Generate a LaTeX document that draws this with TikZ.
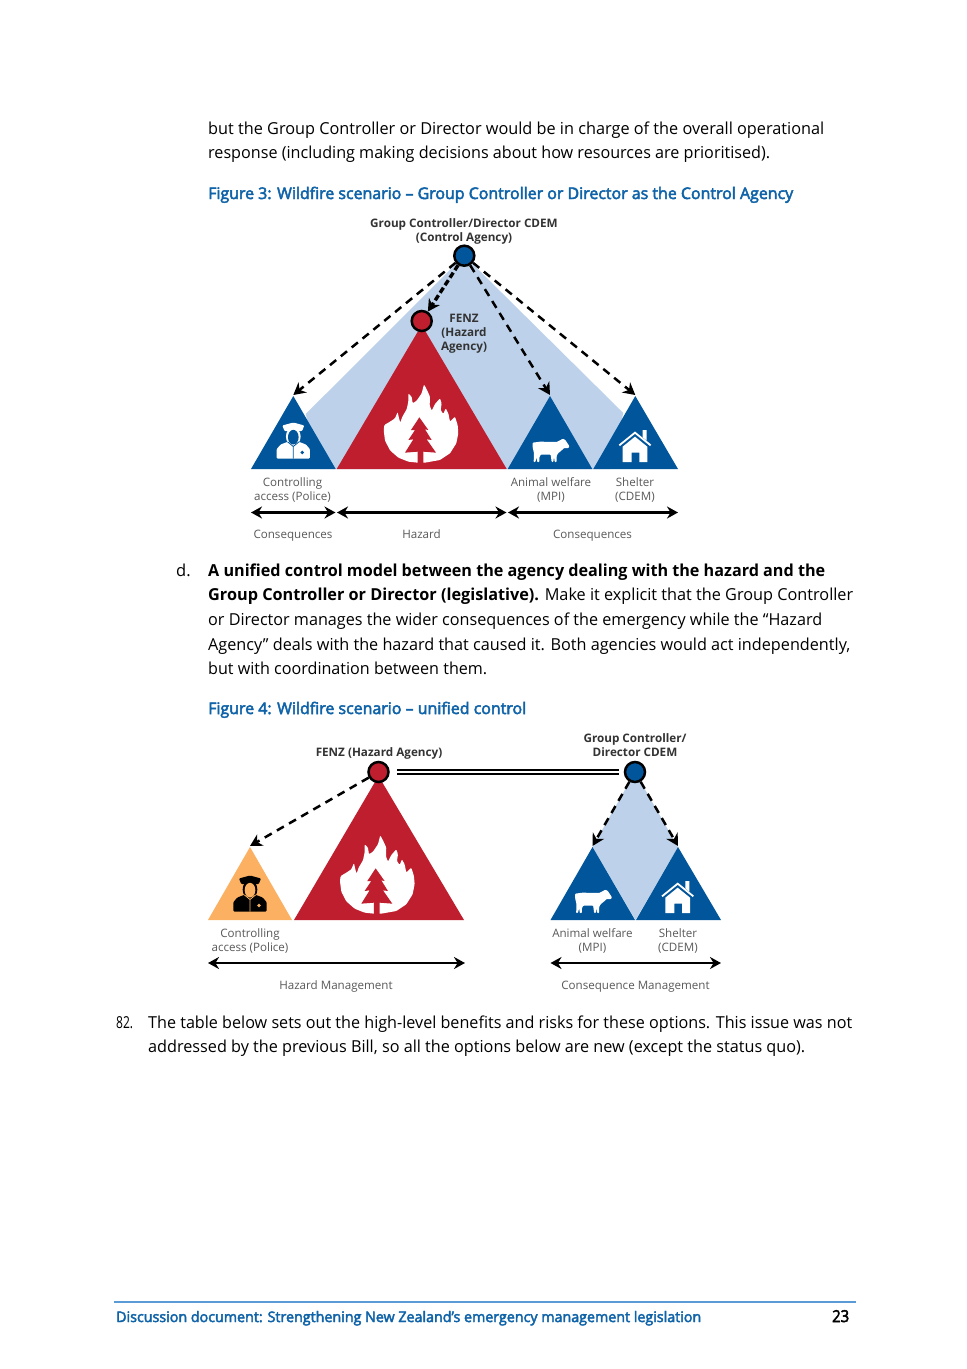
\documentclass[tikz,border=0pt]{standalone}
\usepackage{fontspec}
\usepackage{graphicx}
\usetikzlibrary{arrows.meta}
\setmainfont{Open Sans}
\newfontfamily\semifont[FakeBold=3]{Open Sans}
\newfontfamily\boldfont{Open Sans Bold}
\definecolor{cblue}{HTML}{00559B}
\definecolor{cred}{HTML}{BE1E2D}
\definecolor{clight}{HTML}{BDD2EA}
\definecolor{corange}{HTML}{FBB062}
\definecolor{capblue}{HTML}{0F63A8}
\definecolor{rulec}{HTML}{5B9BD5}
\definecolor{lab}{HTML}{595959}
\definecolor{labb}{HTML}{333333}
\newcommand{\fitto}[2]{\resizebox{#1pt}{\height}{#2}}
\newcommand{\officericon}[4]{%
 \begin{scope}[shift={(#1,#2)},xscale=0.3333,yscale=0.3333]
  \fill[#3,rounded corners=1pt] (-33,-99)--(0,-108)--(33,-99)--(26,-82)--(-26,-82)--cycle;
  \fill[#3] (0,-66) ellipse [x radius=22,y radius=28];
  \fill[#4] (0,-64) ellipse [x radius=16,y radius=22];
  \fill[#3,rounded corners=1pt] (-50,0)--(-50,-28)--(-38,-42)--(-17,-50)--(0,-38)--(17,-50)--(38,-42)--(50,-28)--(50,0)--cycle;
  \draw[#4,line width=0.8pt] (-17,-50)--(0,-36)--(17,-50) (0,-36)--(0,0);
  \fill[#4] (27,-18) circle [radius=5.5];
 \end{scope}}
\newcommand{\fireicon}[2]{%
 \begin{scope}[shift={(#1,#2)},xscale=0.3333,yscale=0.3333]
  \fill[white,rounded corners=1pt] (128,248)--(100,245)--(70,233)--(45,211)--(30,182)--(26,150)--(28,135)--(45,125)--(60,115)--(68,96)--(72,115)--(76,128)--(82,110)--(95,88)--(100,65)--(100,40)--(110,50)--(113,70)--(125,62)--(140,40)--(147,13)--(156,30)--(165,50)--(164,76)--(170,92)--(180,72)--(195,55)--(200,70)--(197,90)--(205,102)--(212,85)--(220,100)--(225,125)--(240,110)--(248,135)--(250,160)--(244,190)--(225,220)--(195,240)--(150,248)--cycle;
  \fill[cred] (133,112)--(160,150)--(150,148)--(170,180)--(155,178)--(183,218)--(145,215)--(145,250)--(128,250)--(128,215)--(90,218)--(115,178)--(100,180)--(120,150)--(108,150)--cycle;
 \end{scope}}
\newcommand{\cowicon}[2]{%
 \begin{scope}[shift={(#1,#2)},xscale=0.3333,yscale=0.3333]
  \fill[white,rounded corners=0.7pt] (38,68)--(60,65)--(110,66)--(122,60)--(128,56)--(136,60)--(148,78)--(146,84)--(132,84)--(124,92)--(114,100)--(110,108)--(110,126)--(104,126)--(102,110)--(100,126)--(95,126)--(92,104)--(62,104)--(58,112)--(58,126)--(52,126)--(50,112)--(46,126)--(41,126)--(42,100)--(38,82)--cycle;
 \end{scope}}
\newcommand{\houseicon}[2]{%
 \begin{scope}[shift={(#1,#2)},xscale=0.3333,yscale=0.3333]
  \fill[white] (368,30)--(380,30)--(380,62)--(368,52)--cycle;
  \draw[white,line width=1.8pt] (298,76)--(345,38)--(392,76);
  \fill[white] (308,80)--(345,50)--(382,80)--(382,126)--(358,126)--(358,98)--(335,98)--(335,126)--(308,126)--cycle;
 \end{scope}}
\tikzset{
 x=1pt,y=-1pt,
 bodytxt/.style={anchor=base west,inner sep=0pt,font=\fontsize{16.5}{20}\selectfont,text=black},
 captxt/.style={anchor=base west,inner sep=0pt,font=\semifont\fontsize{16}{20}\selectfont,text=capblue},
 foottxt/.style={anchor=base west,inner sep=0pt,font=\semifont\fontsize{14.5}{18}\selectfont,text=capblue},
 flab/.style={inner sep=0pt,align=center,text=lab,font=\fontsize{11.6}{14}\selectfont},
 flabb/.style={inner sep=0pt,align=center,text=labb,font=\boldfont\fontsize{11.7}{14}\selectfont},
 agency/.style={circle,draw=black,line width=2.5pt,minimum size=20pt,inner sep=0pt},
 dasharrow/.style={draw=black,line width=2.5pt,dash pattern=on 8pt off 6pt,-{Stealth[length=12pt,width=13pt]}},
 spanarrow/.style={draw=black,line width=2.4pt,{Stealth[length=11pt,width=12pt]}-{Stealth[length=11pt,width=12pt]}},
 linkline/.style={draw=black,double=white,double distance=1.3pt,line width=2.2pt,shorten <=7pt,shorten >=5pt},
}
\begin{document}
\begin{tikzpicture}
\useasboundingbox (0,0) rectangle (967,1369);
\fill[white] (0,0) rectangle (967,1369);
% body text
\node[bodytxt] (t1) at (208,134) {\fitto{616}{but the Group Controller or Director would be in charge of the overall operational}};
\node[bodytxt] (t2) at (208,158) {\fitto{562}{response (including making decisions about how resources are prioritised).}};
\node[captxt] (c3) at (208,199) {\fitto{585}{Figure 3: Wildfire scenario – Group Controller or Director as the Control Agency}};
\node[bodytxt] (dd) at (176,576) {d.};
\node[bodytxt] (t3) at (208,576) {\fitto{617}{\boldfont A unified control model between the agency dealing with the hazard and the}};
\node[bodytxt] (t4) at (208,600) {\fitto{645}{{\boldfont Group Controller or Director (legislative).} Make it explicit that the Group Controller}};
\node[bodytxt] (t5) at (208,625) {\fitto{614}{or Director manages the wider consequences of the emergency while the “Hazard}};
\node[bodytxt] (t6) at (208,650) {\fitto{642}{Agency” deals with the hazard that caused it. Both agencies would act independently,}};
\node[bodytxt] (t7) at (208,674) {\fitto{279}{but with coordination between them.}};
\node[captxt] (c4) at (208,714) {\fitto{318}{Figure 4: Wildfire scenario – unified control}};
\node[bodytxt] (n82) at (116,1028) {\fitto{17}{82.}};
\node[bodytxt] (t8) at (148,1028) {\fitto{704}{The table below sets out the high-level benefits and risks for these options. This issue was not}};
\node[bodytxt] (t9) at (148,1052) {\fitto{657}{addressed by the previous Bill, so all the options below are new (except the status quo).}};
% footer
\coordinate (fl) at (114,1302);
\coordinate (fr) at (856,1302);
\draw[rulec,line width=1.5pt] (fl)--(fr);
\node[foottxt] (foot) at (116,1322) {\fitto{585}{Discussion document: Strengthening New Zealand’s emergency management legislation}};
\node[bodytxt,text=black] (pg) at (832,1322) {\fitto{17}{\semifont 23}};
% ---------- figure 3
\coordinate (a3ctl) at (464.3,255.7);
\fill[clight] (a3ctl)--(305.7,414)--(320,469)--(610,469)--(623.3,413)--cycle;
\fill[cblue] (251,469)--(293.3,396)--(335.7,469)--cycle;
\fill[cred] (336.7,469)--(421.7,325)--(506.7,469)--cycle;
\fill[cblue] (507.7,469)--(550,396)--(592.3,469)--cycle;
\fill[cblue] (593.3,469)--(635.3,396)--(678,469)--cycle;
\officericon{293.3}{458.5}{white}{cblue}
\fireicon{375}{380}
\cowicon{520}{420}
\houseicon{520}{420}
\node[agency,fill=cblue] (ctl) at (a3ctl) {};
\node[agency,fill=cred] (haz) at (421.7,321) {};
\coordinate (ap1) at (293.3,395);
\coordinate (ap3) at (550,395);
\coordinate (ap4) at (635.3,395);
\draw[dasharrow] (ctl)--(ap1);
\draw[dasharrow,line width=3.4pt,dash pattern=on 6pt off 3pt] (ctl)--(haz);
\draw[dasharrow] (ctl)--(ap3);
\draw[dasharrow] (ctl)--(ap4);
\node[flabb] (l1) at (464,231.5) {Group Controller/Director CDEM\\(Control Agency)};
\node[flabb] (l2) at (464,334) {FENZ\\(Hazard\\Agency)};
\node[flab] (l3) at (292.5,490) {Controlling\\access (Police)};
\node[flab] (l4) at (551,490) {Animal welfare\\(MPI)};
\node[flab] (l5) at (635,490) {Shelter\\(CDEM)};
\coordinate (s1) at (251,512.5);
\coordinate (s2) at (335.5,512.5);
\coordinate (s3) at (337,512.5);
\coordinate (s4) at (506.5,512.5);
\coordinate (s5) at (508,512.5);
\coordinate (s6) at (678,512.5);
\draw[spanarrow] (s1)--(s2);
\draw[spanarrow] (s3)--(s4);
\draw[spanarrow] (s5)--(s6);
\node[flab] (l6) at (293,535.5) {Consequences};
\node[flab] (l7) at (421.5,534) {Hazard};
\node[flab] (l8) at (592.5,535.5) {Consequences};
% ---------- figure 4
\coordinate (a4gc) at (635,772);
\fill[clight] (a4gc)--(592.5,847)--(635.5,920)--(678,847)--cycle;
\fill[corange] (208,920)--(250,847)--(292,920)--cycle;
\fill[cred] (294,920)--(378.5,776)--(464,920)--cycle;
\fill[cblue] (550.5,920)--(592.5,847)--(635,920)--cycle;
\fill[cblue] (636,920)--(678,847)--(721,920)--cycle;
\officericon{250}{911.5}{black}{corange}
\fireicon{331.3}{831}
\cowicon{562.5}{871}
\houseicon{562.7}{871}
\node[agency,fill=cred] (fenz) at (378.5,772) {};
\node[agency,fill=cblue] (gc) at (a4gc) {};
\coordinate (b1) at (250,846);
\coordinate (b3) at (592.5,846);
\coordinate (b4) at (678,846);
\draw[dasharrow] (fenz)--(b1);
\draw[dasharrow] (gc)--(b3);
\draw[dasharrow] (gc)--(b4);
\draw[linkline] (fenz)--(gc);
\node[flabb] (m1) at (379,753.5) {FENZ (Hazard Agency)};
\node[flabb] (m2) at (635,745) {Group Controller/\\Director CDEM};
\node[flab] (m3) at (250,941) {Controlling\\access (Police)};
\node[flab] (m4) at (592.5,940.5) {Animal welfare\\(MPI)};
\node[flab] (m5) at (678,940.5) {Shelter\\(CDEM)};
\coordinate (u1) at (208,963);
\coordinate (u2) at (465,963);
\coordinate (u3) at (550.5,963);
\coordinate (u4) at (721,963);
\draw[spanarrow] (u1)--(u2);
\draw[spanarrow] (u3)--(u4);
\node[flab] (m6) at (336,986) {Hazard Management};
\node[flab] (m7) at (635.5,986.5) {Consequence Management};
\end{tikzpicture}
\end{document}
